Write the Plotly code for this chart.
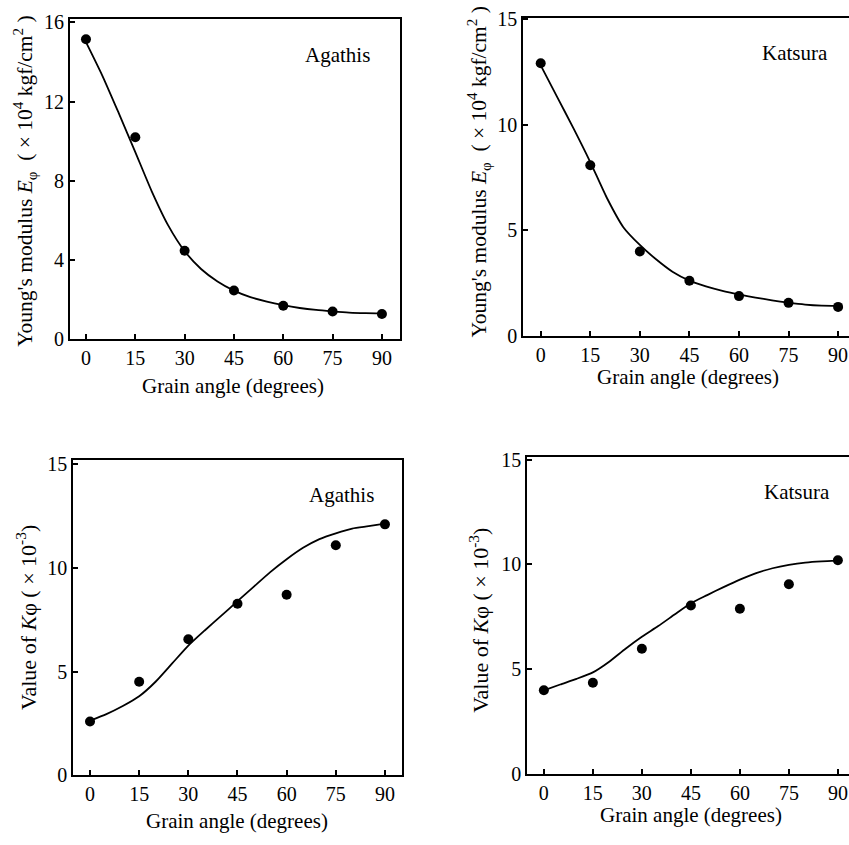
import plotly.graph_objects as go

W, H = 849, 845

# ---- data ----
angles = [0, 15, 30, 45, 60, 75, 90]
curve_angles = [0, 5, 10, 15, 20, 25, 30, 35, 40, 45, 50, 55, 60, 65, 70, 75, 80, 85, 90]

agathis_E_pts = [15.15, 10.2, 4.47, 2.46, 1.69, 1.40, 1.28]
agathis_E_curve = [15.0, 13.3, 11.4, 9.45, 7.47, 5.75, 4.45, 3.55, 2.92, 2.46, 2.13, 1.90,
                   1.72, 1.58, 1.48, 1.41, 1.35, 1.32, 1.31]

katsura_E_pts = [12.9, 8.08, 4.0, 2.62, 1.89, 1.57, 1.38]
katsura_E_curve = [12.8, 11.3, 9.8, 8.23, 6.54, 5.15, 4.31, 3.62, 3.03, 2.62, 2.35, 2.14,
                   1.97, 1.82, 1.69, 1.58, 1.49, 1.44, 1.43]

agathis_K_pts = [2.6, 4.51, 6.56, 8.27, 8.7, 11.08, 12.09]
agathis_K_curve = [2.64, 2.95, 3.34, 3.81, 4.51, 5.38, 6.25, 6.98, 7.68, 8.39, 9.09, 9.79,
                   10.41, 10.96, 11.38, 11.66, 11.89, 12.0, 12.12]

katsura_K_pts = [3.99, 4.34, 5.97, 8.03, 7.88, 9.05, 10.19]
katsura_K_curve = [3.98, 4.26, 4.53, 4.84, 5.35, 5.97, 6.54, 7.05, 7.60, 8.14, 8.53, 8.91,
                   9.27, 9.58, 9.81, 9.97, 10.08, 10.14, 10.17]

x_ticks = [0, 15, 30, 45, 60, 75, 90]
E_ticks_agathis = [0, 4, 8, 12, 16]
E_ticks_katsura = [0, 5, 10, 15]
K_ticks = [0, 5, 10, 15]

species = ["Agathis", "Katsura", "Agathis", "Katsura"]
x_title = "Grain angle (degrees)"
NB = "\u00a0"
yE_title = ("Young's modulus <i>E</i><sub>φ</sub>" + NB * 2 + "(" + NB + "×" + NB
            + "10<sup>4</sup>" + NB + "kgf/cm<sup>2</sup>" + NB + ")")
yK_title = "Value of <i>K</i>φ" + NB + "(" + NB + "×" + NB + "10<sup>-3</sup>)"

FONT = "Liberation Serif, Times New Roman, serif"

def px_x(p):
    return p / W

def px_y(p):
    return 1 - p / H

# panel boxes in pixels: left, right, top, bottom
panels = [
    dict(box=(70, 400, 10, 338.3), xr=[-4.86, 95.5], yr=[0, 16.18], yt=E_ticks_agathis,
         pts=agathis_E_pts, curve=agathis_E_curve, mirror_y=True,
         lab=(337, 47), xt=(233, 386), ytl=(25, 177), ytitle=yE_title, ysize=21.5),
    dict(box=(523.3, 849, 9, 335), xr=[-5.27, 93.3], yr=[0, 15.05], yt=E_ticks_katsura,
         pts=katsura_E_pts, curve=katsura_E_curve, mirror_y=False,
         lab=(795, 45), xt=(687.5, 377), ytl=(479, 167.5), ytitle=yE_title, ysize=21.5),
    dict(box=(73.3, 402, 461.7, 785), xr=[-5.1, 95.2], yr=[0, 15.2], yt=K_ticks,
         pts=agathis_K_pts, curve=agathis_K_curve, mirror_y=True,
         lab=(341.7, 498), xt=(236.7, 832), ytl=(26.7, 623), ytitle=yK_title, ysize=22),
    dict(box=(527.3, 849, 459.3, 783.3), xr=[-5.07, 93.4], yr=[0, 15.1], yt=K_ticks,
         pts=katsura_K_pts, curve=katsura_K_curve, mirror_y=False,
         lab=(796.7, 495), xt=(690.8, 826), ytl=(479, 626.7), ytitle=yK_title, ysize=22),
]

fig = go.Figure()
layout = dict(
    width=W, height=H, margin=dict(l=0, r=0, t=0, b=0),
    paper_bgcolor="white", plot_bgcolor="white", showlegend=False,
    font=dict(family=FONT, size=20, color="black"),
)
annotations = []

for i, p in enumerate(panels):
    n = "" if i == 0 else str(i + 1)
    xa, ya = "x" + n, "y" + n
    l, r, t, b = p["box"]
    fig.add_trace(go.Scatter(x=curve_angles, y=p["curve"], mode="lines",
                             line=dict(color="black", width=1.8, shape="spline", smoothing=0.6),
                             xaxis=xa, yaxis=ya, hoverinfo="skip", cliponaxis=False))
    fig.add_trace(go.Scatter(x=angles, y=p["pts"], mode="markers",
                             marker=dict(color="black", size=10),
                             xaxis=xa, yaxis=ya, cliponaxis=False))
    common = dict(showgrid=False, zeroline=False, showline=True, linecolor="black",
                  linewidth=2, ticks="inside", ticklen=5, tickwidth=1.5, tickcolor="black",
                  tickfont=dict(family=FONT, size=20, color="black"))
    layout["xaxis" + n] = dict(common, domain=[px_x(l), px_x(r)], anchor=ya, range=p["xr"],
                               tickvals=x_ticks, mirror=True, fixedrange=True,
                               ticklabelstandoff=0)
    layout["yaxis" + n] = dict(common, domain=[px_y(b), px_y(t)], anchor=xa, range=p["yr"],
                               tickvals=p["yt"], mirror=p["mirror_y"], fixedrange=True)
    annotations.append(dict(text=species[i], x=px_x(p["lab"][0]), y=px_y(p["lab"][1]),
                            xref="paper", yref="paper", showarrow=False,
                            xanchor="center", yanchor="middle",
                            font=dict(family=FONT, size=21, color="black")))
    annotations.append(dict(text=x_title, x=px_x(p["xt"][0]), y=px_y(p["xt"][1]),
                            xref="paper", yref="paper", showarrow=False,
                            xanchor="center", yanchor="middle",
                            font=dict(family=FONT, size=21, color="black")))
    annotations.append(dict(text=p["ytitle"], x=px_x(p["ytl"][0]), y=px_y(p["ytl"][1]),
                            xref="paper", yref="paper", showarrow=False, textangle=-90,
                            xanchor="center", yanchor="middle",
                            font=dict(family=FONT, size=p["ysize"], color="black")))

layout["annotations"] = annotations
fig.update_layout(**layout)
fig.write_html(
    "out.html",
    config={"displayModeBar": False},
    post_script="document.body.style.margin='0';document.documentElement.style.overflow='hidden';",
)
